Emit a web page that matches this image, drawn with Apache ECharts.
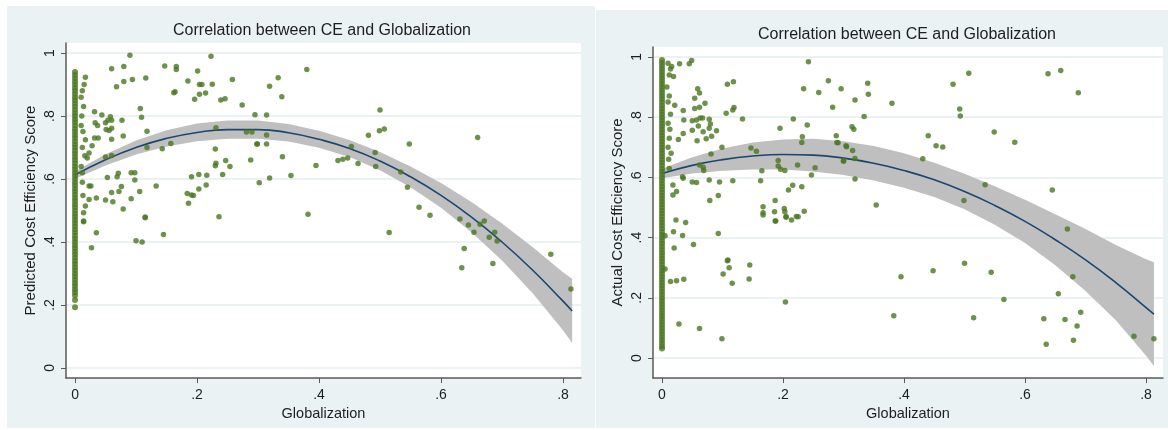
<!DOCTYPE html>
<html>
<head>
<meta charset="utf-8">
<title>Correlation between CE and Globalization</title>
<script src="https://cdn.jsdelivr.net/npm/echarts@6/dist/echarts.min.js"></script>
<style>
  html, body { margin: 0; padding: 0; background: #ffffff; }
  #chart { width: 1168px; height: 430px; }
</style>
</head>
<body>
<div id="chart"></div>
<script>
// tick labels shared by both panels
const xTicks = [0, 0.2, 0.4, 0.6, 0.8];
const yTicks = [0, 0.2, 0.4, 0.6, 0.8, 1];

// --- left panel: predicted CE ---
// quadratic fit and its 95% band
const predFitX = [0, 0.05, 0.1, 0.15, 0.2, 0.25, 0.3, 0.35, 0.4, 0.45, 0.5, 0.55, 0.6, 0.65, 0.7, 0.75, 0.8, 0.815];
const predFit = [0.613, 0.661, 0.700, 0.729, 0.748, 0.757, 0.757, 0.747, 0.726, 0.697, 0.657, 0.607, 0.548, 0.479, 0.400, 0.311, 0.212, 0.181];
const predHalfCI = [0.012, 0.018, 0.022, 0.026, 0.028, 0.029, 0.029, 0.028, 0.027, 0.027, 0.029, 0.033, 0.039, 0.048, 0.059, 0.073, 0.092, 0.102];
// countries with zero globalization (dense column at x = 0)
const predZeroY = [0.193, 0.216, 0.23, 0.24, 0.25, 0.26, 0.27, 0.28, 0.29, 0.30, 0.31, 0.32, 0.33, 0.34, 0.35, 0.36, 0.37,
  0.38, 0.39, 0.40, 0.41, 0.42, 0.43, 0.44, 0.45, 0.46, 0.47, 0.48, 0.49, 0.50, 0.51, 0.52, 0.53, 0.54, 0.55, 0.56, 0.57,
  0.58, 0.59, 0.60, 0.61, 0.62, 0.63, 0.64, 0.65, 0.66, 0.67, 0.68, 0.69, 0.70, 0.71, 0.72, 0.73, 0.74, 0.75, 0.76, 0.77,
  0.78, 0.79, 0.80, 0.81, 0.82, 0.83, 0.84, 0.85, 0.86, 0.87, 0.88, 0.89, 0.90, 0.91, 0.92, 0.93, 0.94];
const predPoints = [
  [0.090, 0.993], [0.017, 0.923], [0.060, 0.950], [0.080, 0.957], [0.080, 0.910], [0.094, 0.916], [0.068, 0.893], [0.116, 0.921],
  [0.147, 0.959], [0.166, 0.957], [0.166, 0.948], [0.164, 0.877], [0.162, 0.874], [0.223, 0.990], [0.201, 0.943], [0.185, 0.911],
  [0.204, 0.900], [0.208, 0.900], [0.225, 0.901], [0.204, 0.869], [0.196, 0.853], [0.214, 0.873], [0.258, 0.916], [0.239, 0.851],
  [0.246, 0.855], [0.274, 0.835], [0.295, 0.804], [0.032, 0.814], [0.044, 0.803], [0.033, 0.779], [0.037, 0.770], [0.050, 0.779],
  [0.058, 0.798], [0.054, 0.787], [0.060, 0.787], [0.051, 0.757], [0.056, 0.754], [0.060, 0.761], [0.032, 0.730], [0.038, 0.730],
  [0.060, 0.726], [0.077, 0.787], [0.079, 0.737], [0.107, 0.824], [0.109, 0.796], [0.118, 0.752], [0.013, 0.751], [0.017, 0.725],
  [0.028, 0.706], [0.023, 0.683], [0.016, 0.674], [0.020, 0.667], [0.050, 0.670], [0.060, 0.675], [0.118, 0.700], [0.143, 0.696],
  [0.157, 0.713], [0.231, 0.763], [0.230, 0.695], [0.231, 0.650], [0.230, 0.642], [0.254, 0.640], [0.247, 0.659], [0.242, 0.614],
  [0.281, 0.749], [0.290, 0.749], [0.299, 0.711], [0.288, 0.660], [0.302, 0.588], [0.053, 0.605], [0.069, 0.607], [0.071, 0.618],
  [0.092, 0.620], [0.098, 0.620], [0.098, 0.597], [0.133, 0.578], [0.106, 0.560], [0.076, 0.576], [0.072, 0.560], [0.060, 0.557],
  [0.050, 0.533], [0.062, 0.528], [0.035, 0.540], [0.023, 0.535], [0.013, 0.548], [0.017, 0.514], [0.014, 0.493], [0.014, 0.464],
  [0.079, 0.505], [0.092, 0.537], [0.115, 0.479], [0.191, 0.607], [0.203, 0.614], [0.216, 0.612], [0.203, 0.568], [0.215, 0.581],
  [0.184, 0.554], [0.191, 0.549], [0.194, 0.548], [0.186, 0.523], [0.236, 0.480], [0.035, 0.429], [0.027, 0.382], [0.100, 0.404],
  [0.110, 0.400], [0.145, 0.424], [0.012, 0.590], [0.023, 0.578], [0.026, 0.578], [0.115, 0.477], [0.014, 0.467],
  [0.380, 0.948], [0.500, 0.819], [0.499, 0.753], [0.507, 0.759], [0.481, 0.739], [0.548, 0.711], [0.660, 0.732], [0.453, 0.703],
  [0.395, 0.643], [0.431, 0.659], [0.439, 0.663], [0.447, 0.667], [0.464, 0.649], [0.492, 0.684], [0.493, 0.640], [0.534, 0.622],
  [0.545, 0.574], [0.564, 0.510], [0.382, 0.488], [0.582, 0.485], [0.515, 0.430], [0.631, 0.473], [0.645, 0.454],
  [0.654, 0.431], [0.664, 0.456], [0.671, 0.467], [0.679, 0.415], [0.688, 0.431], [0.692, 0.403], [0.638, 0.379], [0.634, 0.318],
  [0.685, 0.332], [0.780, 0.361], [0.813, 0.251], [0.314, 0.803], [0.333, 0.922], [0.319, 0.895], [0.339, 0.861], [0.314, 0.740],
  [0.314, 0.711], [0.298, 0.711], [0.340, 0.671], [0.319, 0.603], [0.354, 0.611],
  [0.012, 0.880], [0.015, 0.900], [0.010, 0.860], [0.014, 0.830], [0.011, 0.800], [0.010, 0.770], [0.012, 0.700], [0.010, 0.640], [0.012, 0.620]
];

// --- right panel: actual CE ---
const actualFitX = [0, 0.05, 0.1, 0.15, 0.2, 0.25, 0.3, 0.35, 0.4, 0.45, 0.5, 0.55, 0.6, 0.65, 0.7, 0.75, 0.8, 0.813];
const actualFit = [0.613, 0.640, 0.659, 0.671, 0.676, 0.674, 0.664, 0.647, 0.623, 0.592, 0.553, 0.507, 0.454, 0.393, 0.326, 0.251, 0.168, 0.146];
const actualHalfCI = [0.016, 0.027, 0.037, 0.045, 0.050, 0.054, 0.056, 0.057, 0.057, 0.057, 0.059, 0.064, 0.072, 0.085, 0.103, 0.125, 0.160, 0.172];
const actualZeroY = [0.032, 0.04, 0.05, 0.06, 0.07, 0.08, 0.09, 0.10, 0.11, 0.12, 0.13, 0.14, 0.15, 0.16, 0.17, 0.18, 0.19,
  0.20, 0.21, 0.22, 0.23, 0.24, 0.25, 0.26, 0.27, 0.28, 0.29, 0.30, 0.31, 0.32, 0.33, 0.34, 0.35, 0.36, 0.37, 0.38, 0.39,
  0.40, 0.41, 0.42, 0.43, 0.44, 0.45, 0.46, 0.47, 0.48, 0.49, 0.50, 0.51, 0.52, 0.53, 0.54, 0.55, 0.56, 0.57, 0.58, 0.59,
  0.60, 0.61, 0.62, 0.63, 0.64, 0.65, 0.66, 0.67, 0.68, 0.69, 0.70, 0.71, 0.72, 0.73, 0.74, 0.75, 0.76, 0.77, 0.78, 0.79,
  0.80, 0.81, 0.82, 0.83, 0.84, 0.85, 0.86, 0.87, 0.88, 0.89, 0.90, 0.91, 0.92, 0.93, 0.94, 0.95, 0.96, 0.97, 0.98, 0.99];
const actualPoints = [
  [0.029, 0.977], [0.045, 0.977], [0.049, 0.988], [0.019, 0.935], [0.016, 0.968], [0.010, 0.979], [0.108, 0.909], [0.118, 0.918],
  [0.059, 0.894], [0.062, 0.880], [0.054, 0.863], [0.054, 0.829], [0.062, 0.833], [0.071, 0.846], [0.035, 0.822], [0.021, 0.840],
  [0.106, 0.813], [0.119, 0.832], [0.117, 0.824], [0.036, 0.791], [0.050, 0.788], [0.057, 0.791], [0.063, 0.797], [0.067, 0.797],
  [0.078, 0.793], [0.080, 0.777], [0.078, 0.763], [0.060, 0.771], [0.050, 0.757], [0.068, 0.752], [0.090, 0.755], [0.035, 0.746],
  [0.027, 0.726], [0.058, 0.722], [0.073, 0.728], [0.082, 0.737], [0.133, 0.794], [0.217, 0.794], [0.195, 0.763], [0.240, 0.774],
  [0.232, 0.735], [0.231, 0.716], [0.099, 0.700], [0.081, 0.678], [0.147, 0.698], [0.156, 0.687], [0.062, 0.641], [0.068, 0.634],
  [0.069, 0.623], [0.165, 0.622], [0.192, 0.656], [0.192, 0.638], [0.196, 0.627], [0.203, 0.623], [0.224, 0.641], [0.253, 0.632],
  [0.247, 0.608], [0.289, 0.716], [0.300, 0.656], [0.305, 0.702], [0.242, 0.984], [0.234, 0.894], [0.259, 0.882], [0.275, 0.921],
  [0.296, 0.894], [0.282, 0.833], [0.034, 0.602], [0.035, 0.597], [0.050, 0.585], [0.057, 0.583], [0.078, 0.591], [0.095, 0.585],
  [0.117, 0.589], [0.163, 0.589], [0.018, 0.575], [0.024, 0.553], [0.018, 0.542], [0.093, 0.540], [0.079, 0.523], [0.209, 0.558],
  [0.216, 0.574], [0.231, 0.569], [0.167, 0.503], [0.167, 0.483], [0.187, 0.523], [0.186, 0.486], [0.187, 0.455], [0.202, 0.497],
  [0.203, 0.486], [0.205, 0.470], [0.214, 0.459], [0.222, 0.470], [0.235, 0.488], [0.023, 0.459], [0.039, 0.450], [0.019, 0.420],
  [0.034, 0.407], [0.093, 0.414], [0.020, 0.366], [0.052, 0.377], [0.109, 0.326],
  [0.334, 0.802], [0.340, 0.913], [0.341, 0.876], [0.319, 0.857], [0.314, 0.768], [0.317, 0.760], [0.288, 0.738], [0.291, 0.715],
  [0.304, 0.705], [0.315, 0.689], [0.319, 0.663], [0.300, 0.654], [0.319, 0.595], [0.354, 0.508],
  [0.380, 0.846], [0.481, 0.909], [0.507, 0.946], [0.638, 0.944], [0.659, 0.955], [0.688, 0.881], [0.492, 0.827], [0.493, 0.804],
  [0.440, 0.738], [0.453, 0.705], [0.464, 0.701], [0.549, 0.751], [0.583, 0.717], [0.431, 0.662], [0.534, 0.576], [0.499, 0.523],
  [0.645, 0.558], [0.670, 0.429], [0.395, 0.270], [0.448, 0.290], [0.500, 0.315], [0.544, 0.285], [0.679, 0.270], [0.565, 0.195],
  [0.655, 0.214], [0.383, 0.141], [0.515, 0.134], [0.631, 0.131], [0.666, 0.128], [0.692, 0.152], [0.686, 0.107], [0.635, 0.046],
  [0.680, 0.059], [0.780, 0.073], [0.813, 0.064],
  [0.005, 0.406], [0.005, 0.296], [0.014, 0.254], [0.024, 0.257], [0.036, 0.262], [0.028, 0.113], [0.062, 0.098], [0.099, 0.064],
  [0.108, 0.323], [0.111, 0.300], [0.101, 0.279], [0.116, 0.249], [0.145, 0.309], [0.144, 0.263], [0.204, 0.186], [0.188, 0.455],
  [0.205, 0.468], [0.225, 0.469], [0.167, 0.475],
  [0.012, 0.940], [0.014, 0.960], [0.008, 0.900], [0.012, 0.870], [0.010, 0.850], [0.014, 0.810], [0.010, 0.780], [0.013, 0.760],
  [0.012, 0.730], [0.010, 0.700], [0.015, 0.680], [0.011, 0.660], [0.012, 0.630]
];

const FONT = 'Liberation Sans, Arial, sans-serif';
const DOT = '#4a7720';
const NAVY = '#1a476f';
const BAND = '#bfbfbf';
const GRIDLINE = '#e4eef0';
const TEXT = '#1e1e1e';

// stata style numbers: .2 instead of 0.2
function stataNum(v) {
  if (v === 0) return '0';
  if (v === 1) return '1';
  return String(+v.toFixed(2)).replace(/^0\./, '.');
}

function makeXAxis(gridIndex, min, max) {
  return {
    type: 'value', gridIndex, min, max,
    name: 'Globalization', nameLocation: 'middle', nameGap: 22,
    nameTextStyle: { fontFamily: FONT, fontSize: 14.5, color: TEXT },
    axisLine: { show: true, onZero: false, lineStyle: { color: '#5a5a5a', width: 1.5 } },
    axisTick: { show: true, length: 5, customValues: xTicks, lineStyle: { color: '#5a5a5a' } },
    axisLabel: { customValues: xTicks, margin: 10, fontFamily: FONT, fontSize: 14, color: TEXT, formatter: stataNum },
    splitLine: { show: false }
  };
}

function makeYAxis(gridIndex, min, max, name) {
  return {
    type: 'value', gridIndex, min, max,
    name, nameLocation: 'middle', nameGap: 28,
    nameTextStyle: { fontFamily: FONT, fontSize: 15, color: TEXT },
    axisLine: { show: true, onZero: false, lineStyle: { color: '#5a5a5a', width: 1.5 } },
    axisTick: { show: true, length: 5, customValues: yTicks, lineStyle: { color: '#5a5a5a' } },
    axisLabel: { customValues: yTicks, rotate: 90, margin: 9, fontFamily: FONT, fontSize: 14, color: TEXT, formatter: stataNum },
    splitLine: { show: true, lineStyle: { color: GRIDLINE, width: 1.5 } }
  };
}

// confidence band drawn as one polygon in data coordinates
function bandSeries(idx, xs, mid, half) {
  return {
    type: 'custom', xAxisIndex: idx, yAxisIndex: idx, silent: true, z: 1,
    data: [[xs[0], mid[0]]],
    renderItem: function (params, api) {
      const upper = xs.map((x, i) => api.coord([x, mid[i] + half[i]]));
      const lower = xs.map((x, i) => api.coord([x, mid[i] - half[i]])).reverse();
      return {
        type: 'polygon',
        shape: { points: upper.concat(lower) },
        style: { fill: BAND, stroke: null }
      };
    }
  };
}

function fitSeries(idx, xs, ys) {
  return {
    type: 'line', xAxisIndex: idx, yAxisIndex: idx, z: 2,
    data: xs.map((x, i) => [x, ys[i]]),
    smooth: true, showSymbol: false, silent: true,
    lineStyle: { color: NAVY, width: 1.6 }
  };
}

function dotSeries(idx, pts, size) {
  return {
    type: 'scatter', xAxisIndex: idx, yAxisIndex: idx, z: 3,
    data: pts, symbolSize: size, silent: true,
    itemStyle: { color: DOT }
  };
}

const chart = echarts.init(document.getElementById('chart'), null, { renderer: 'canvas' });

chart.setOption({
  animation: false,
  backgroundColor: '#ffffff',
  graphic: [
    { type: 'rect', z: -100, shape: { x: 7, y: 6, width: 588, height: 422 }, style: { fill: '#eaf2f3' } },
    { type: 'rect', z: -100, shape: { x: 596, y: 10, width: 572, height: 418 }, style: { fill: '#eaf2f3' } }
  ],
  title: [
    { text: 'Correlation between CE and Globalization', left: 322, top: 23, textAlign: 'center', padding: 0,
      textStyle: { fontFamily: FONT, fontSize: 16, fontWeight: 'normal', color: TEXT } },
    { text: 'Correlation between CE and Globalization', left: 907, top: 27, textAlign: 'center', padding: 0,
      textStyle: { fontFamily: FONT, fontSize: 16, fontWeight: 'normal', color: TEXT } }
  ],
  grid: [
    { left: 66, top: 43, right: 587, bottom: 52, show: true, backgroundColor: '#ffffff', borderWidth: 0 },
    { left: 653, top: 47, right: 5, bottom: 52, show: true, backgroundColor: '#ffffff', borderWidth: 0 }
  ],
  xAxis: [makeXAxis(0, -0.0148, 0.8295), makeXAxis(1, -0.0149, 0.828)],
  yAxis: [
    makeYAxis(0, -0.032, 1.032, 'Predicted Cost Efficiency Score'),
    makeYAxis(1, -0.066, 1.033, 'Actual Cost Efficiency Score')
  ],
  series: [
    bandSeries(0, predFitX, predFit, predHalfCI),
    fitSeries(0, predFitX, predFit),
    dotSeries(0, predZeroY.map(y => [0, y]), 6),
    dotSeries(0, predPoints, 5.5),
    bandSeries(1, actualFitX, actualFit, actualHalfCI),
    fitSeries(1, actualFitX, actualFit),
    dotSeries(1, actualZeroY.map(y => [0, y]), 6),
    dotSeries(1, actualPoints, 5.5)
  ]
});
</script>
</body>
</html>
